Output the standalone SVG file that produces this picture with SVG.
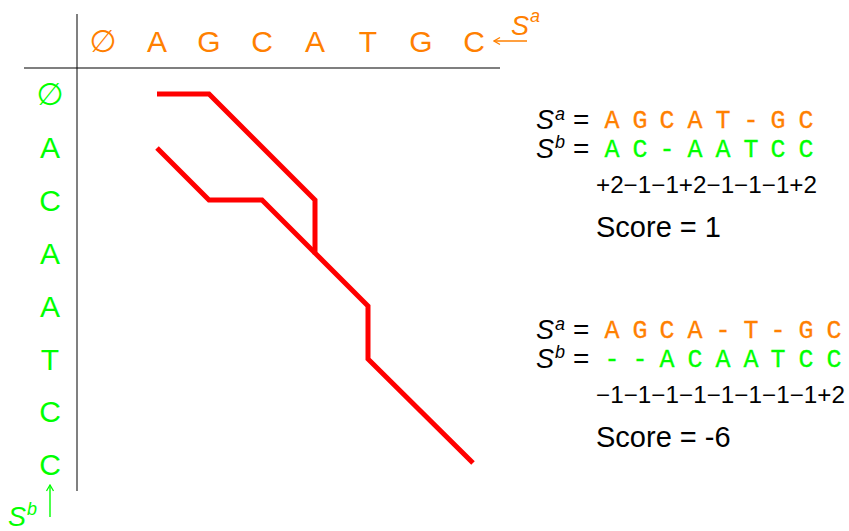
<svg xmlns="http://www.w3.org/2000/svg" width="849" height="531" viewBox="0 0 849 531">
<style>
.sa{fill:#ff8000;font-family:"Liberation Sans","DejaVu Sans",sans-serif;font-size:30px;text-anchor:middle}
.sb{fill:#00ff00;font-family:"Liberation Sans","DejaVu Sans",sans-serif;font-size:30px;text-anchor:middle}
.mo{fill:#ff8000;stroke:#ff8000;stroke-width:0.3;font-family:"Liberation Mono","DejaVu Sans Mono",monospace;font-size:25px;text-anchor:middle}
.mg{fill:#00ff00;stroke:#00ff00;stroke-width:0.3;font-family:"Liberation Mono","DejaVu Sans Mono",monospace;font-size:25px;text-anchor:middle}
.it{font-family:"Liberation Sans","DejaVu Sans",sans-serif;font-style:italic;font-size:27px}
.sup{font-family:"Liberation Sans","DejaVu Sans",sans-serif;font-style:italic;font-size:18px}
.tx{fill:#000;font-family:"Liberation Sans","DejaVu Sans",sans-serif}
.path{fill:none;stroke:#ff0000;stroke-width:5;stroke-linejoin:miter}
.es{font-family:"DejaVu Sans",sans-serif;font-size:31px}
</style>
<defs>
<marker id="ho" viewBox="0 0 10 10" refX="9" refY="5" markerWidth="10" markerHeight="10" markerUnits="userSpaceOnUse" orient="auto">
<path d="M3,1.5 L9,5 L3,8.5" fill="none" stroke="#ff8000" stroke-width="1.3"/>
</marker>
<marker id="hg" viewBox="0 0 10 10" refX="9" refY="5" markerWidth="10" markerHeight="10" markerUnits="userSpaceOnUse" orient="auto">
<path d="M3,1.5 L9,5 L3,8.5" fill="none" stroke="#00ff00" stroke-width="1.3"/>
</marker>
</defs>
<rect width="849" height="531" fill="#fff"/>
<g id="grid">
<line x1="77" y1="14" x2="77" y2="491" stroke="#808080" stroke-width="2"/>
<line x1="24" y1="68" x2="500" y2="68" stroke="#000" stroke-width="1.2"/>
</g>
<g id="header">
<text class="sa" y="52"><tspan x="103" class="es">∅</tspan><tspan x="157">A</tspan><tspan x="209">G</tspan><tspan x="262">C</tspan><tspan x="315">A</tspan><tspan x="368">T</tspan><tspan x="421">G</tspan><tspan x="474">C</tspan></text>
<text class="it" x="511" y="35" fill="#ff8000">S</text>
<text class="sup" x="530" y="22" fill="#ff8000">a</text>
</g>
<g id="rows">
<text class="sb es" x="50" y="105">∅</text>
<text class="sb" x="50" y="158">A</text>
<text class="sb" x="50" y="211">C</text>
<text class="sb" x="50" y="264">A</text>
<text class="sb" x="50" y="317">A</text>
<text class="sb" x="50" y="370">T</text>
<text class="sb" x="50" y="422">C</text>
<text class="sb" x="50" y="475">C</text>
<text class="it" x="8" y="526" fill="#00ff00">S</text>
<text class="sup" x="27" y="515" fill="#00ff00">b</text>
</g>
<g id="connectors">
<line x1="527" y1="41" x2="494" y2="41" stroke="#ff8000" stroke-width="1.4" marker-end="url(#ho)"/>
<line x1="50" y1="517" x2="50" y2="485" stroke="#00ff00" stroke-width="1.4" marker-end="url(#hg)"/>
<polyline id="path1" class="path" points="157,94 209,94 315,200 315,253 368,306 368,359 473,463"/>
<polyline id="path2" class="path" points="157,148 209,200 262,200 315,253"/>
</g>
<g id="align1">
<text class="it" x="536" y="129" fill="#000">S</text><text class="sup" x="555" y="120" fill="#000">a</text>
<text class="tx" x="573" y="129" font-size="28">=</text>
<text class="mo" y="128"><tspan x="612">A</tspan><tspan x="640">G</tspan><tspan x="667">C</tspan><tspan x="695">A</tspan><tspan x="723">T</tspan><tspan x="751">-</tspan><tspan x="778">G</tspan><tspan x="806">C</tspan></text>
<text class="it" x="536" y="158" fill="#000">S</text><text class="sup" x="555" y="148" fill="#000">b</text>
<text class="tx" x="573" y="158" font-size="28">=</text>
<text class="mg" y="157"><tspan x="612">A</tspan><tspan x="640">C</tspan><tspan x="667">-</tspan><tspan x="695">A</tspan><tspan x="723">A</tspan><tspan x="751">T</tspan><tspan x="778">C</tspan><tspan x="806">C</tspan></text>
<text class="tx" x="596" y="193" font-size="23" textLength="221" lengthAdjust="spacingAndGlyphs">+2−1−1+2−1−1−1+2</text>
<text class="tx" x="596" y="237" font-size="29">Score = 1</text>
</g>
<g id="align2">
<text class="it" x="536" y="339" fill="#000">S</text><text class="sup" x="555" y="330" fill="#000">a</text>
<text class="tx" x="573" y="339" font-size="28">=</text>
<text class="mo" y="338"><tspan x="612">A</tspan><tspan x="640">G</tspan><tspan x="667">C</tspan><tspan x="695">A</tspan><tspan x="723">-</tspan><tspan x="751">T</tspan><tspan x="778">-</tspan><tspan x="806">G</tspan><tspan x="834">C</tspan></text>
<text class="it" x="536" y="368" fill="#000">S</text><text class="sup" x="555" y="358" fill="#000">b</text>
<text class="tx" x="573" y="368" font-size="28">=</text>
<text class="mg" y="367"><tspan x="612">-</tspan><tspan x="640">-</tspan><tspan x="667">A</tspan><tspan x="695">C</tspan><tspan x="723">A</tspan><tspan x="751">A</tspan><tspan x="778">T</tspan><tspan x="806">C</tspan><tspan x="834">C</tspan></text>
<text class="tx" x="596" y="403" font-size="23" textLength="249" lengthAdjust="spacingAndGlyphs">−1−1−1−1−1−1−1−1+2</text>
<text class="tx" x="596" y="447" font-size="29">Score = -6</text>
</g>
</svg>
